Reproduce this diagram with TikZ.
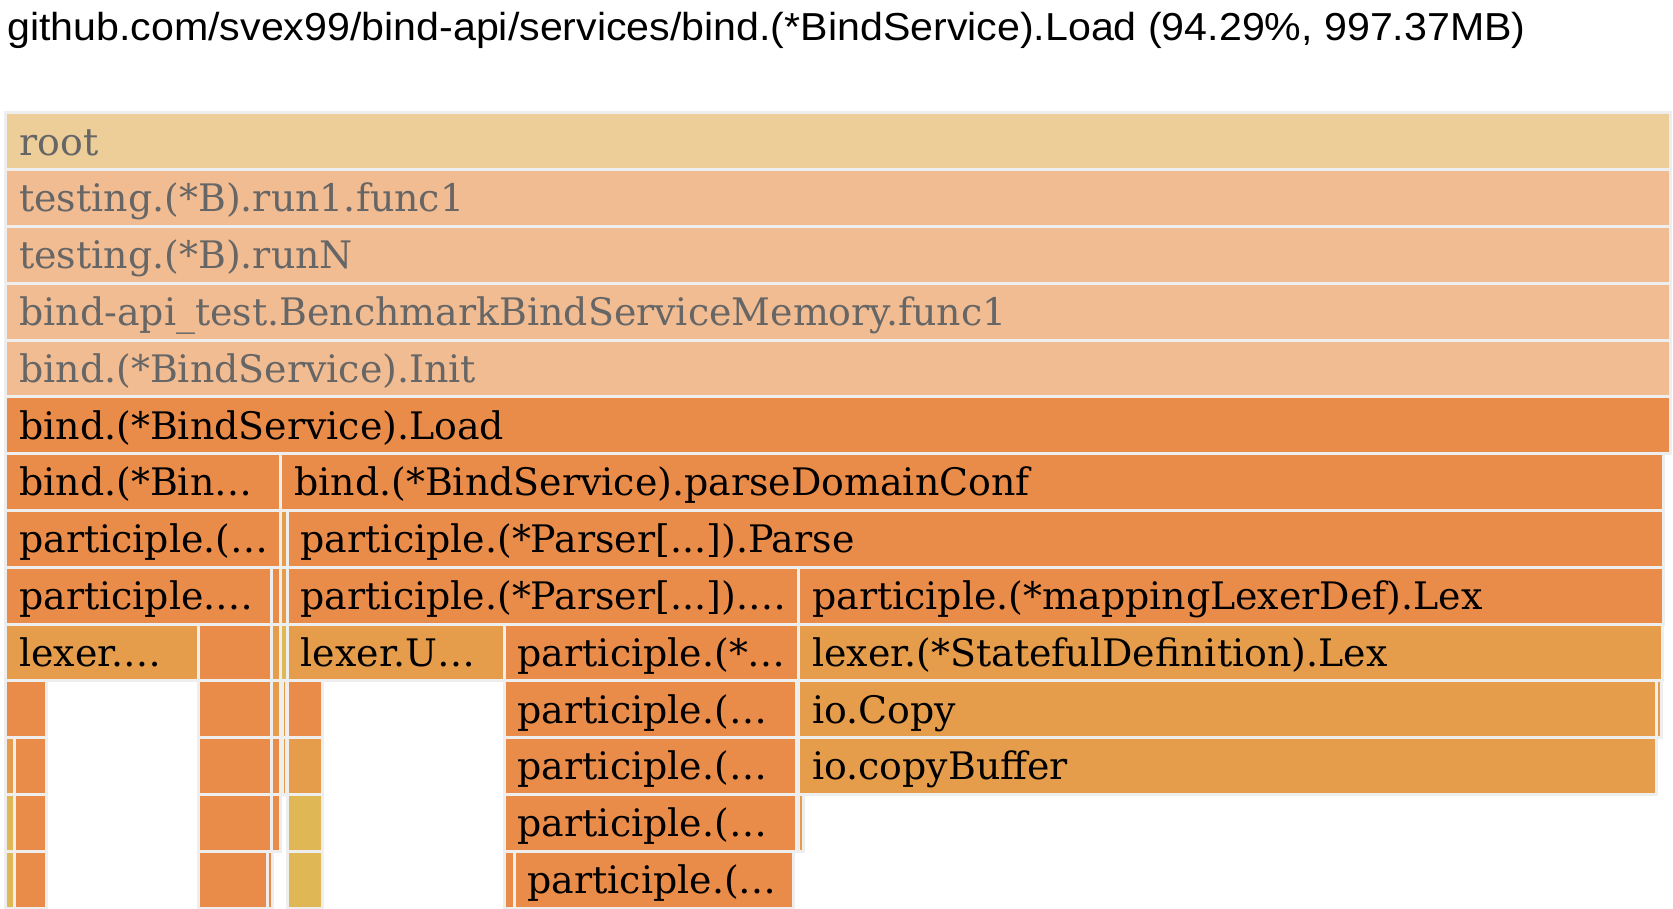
\documentclass[tikz,border=0pt]{standalone}
\usepackage{fontspec}
\setmainfont{DejaVu Serif}
\newfontfamily\titlefont[FakeStretch=1.055]{Liberation Sans}
\usepackage{tikz}
\usetikzlibrary{positioning}
\definecolor{rootfill}{HTML}{EDCE98}
\definecolor{callerfill}{HTML}{F2BC92}
\definecolor{hotfill}{HTML}{E98B49}
\definecolor{warmfill}{HTML}{E59D4C}
\definecolor{mildfill}{HTML}{DFB755}
\definecolor{gapgray}{HTML}{EEEEEE}
\definecolor{dimtext}{HTML}{666666}
\tikzstyle{frame}=[draw=gapgray,line width=3pt]
\tikzstyle{lbl}=[anchor=base west,inner sep=0pt,text=black,font=\fontsize{37.9}{40}\selectfont]
\tikzstyle{heading}=[anchor=base west,inner sep=0pt,font=\titlefont\fontsize{39}{42}\selectfont]
% one frame of the flame graph: name, row, left, right, fill, label
\newcommand{\flame}[6]{%
  \draw[frame,fill=#5] (#3,{112.8+56.8*#2}) rectangle (#4,{169.6+56.8*#2});
  \node[lbl] (#1) at ({#3+13.3},{155+56.8*#2}) {#6};
}

\begin{document}
\begin{tikzpicture}[x=1pt,y=-1pt]
	\useasboundingbox[fill=white] (0,0) rectangle (1673,908);

	% Title
	\node[heading] (title) at (7,40.5) {github.com/svex99/bind-api/services/bind.(*BindService).Load (94.29\%, 997.37MB)};

	% Callers of the focused frame
	\begin{scope}[lbl/.append style={text=dimtext}]
	\flame{root}{0}{5.8}{1670.2}{rootfill}{root}
	\flame{runfunc}{1}{5.8}{1670.2}{callerfill}{testing.(*B).run1.func1}
	\flame{runN}{2}{5.8}{1670.2}{callerfill}{testing.(*B).runN}
	\flame{bench}{3}{5.8}{1670.2}{callerfill}{bind-api\_test.BenchmarkBindServiceMemory.func1}
	\flame{init}{4}{5.8}{1670.2}{callerfill}{bind.(*BindService).Init}
	\end{scope}

	% Focused frame
	\flame{load}{5}{5.8}{1670.2}{hotfill}{bind.(*BindService).Load}

	% Row 6
	\flame{bindA}{6}{5.8}{280.8}{hotfill}{bind.(*Bin…}
	\flame{domconf}{6}{280.8}{1663.5}{hotfill}{bind.(*BindService).parseDomainConf}

	% Row 7
	\flame{partA}{7}{5.8}{280.8}{hotfill}{participle.(…}
	\flame{thinA}{7}{280.8}{287.2}{warmfill}{}
	\flame{parse}{7}{287.2}{1663.5}{hotfill}{participle.(*Parser[...]).Parse}

	% Row 8
	\flame{partB}{8}{5.8}{271}{hotfill}{participle.…}
	\flame{thinB}{8}{271}{280.8}{hotfill}{}
	\flame{thinC}{8}{280.8}{287.2}{warmfill}{}
	\flame{parser}{8}{287.2}{798.7}{hotfill}{participle.(*Parser[...]).…}
	\flame{maplex}{8}{798.7}{1663.5}{hotfill}{participle.(*mappingLexerDef).Lex}

	% Row 9
	\flame{lexA}{9}{5.8}{198.2}{warmfill}{lexer.…}
	\flame{sliceA}{9}{198.2}{271}{hotfill}{}
	\flame{thinD}{9}{271}{280.8}{warmfill}{}
	\flame{thinE}{9}{280.8}{287.2}{mildfill}{}
	\flame{lexU}{9}{287.2}{504.2}{warmfill}{lexer.U…}
	\flame{partC}{9}{504.2}{798.7}{hotfill}{participle.(*…}
	\flame{stateful}{9}{798.7}{1662.5}{warmfill}{lexer.(*StatefulDefinition).Lex}

	% Row 10
	\flame{sliceB}{10}{5.8}{46.2}{hotfill}{}
	\flame{sliceC}{10}{198.2}{271}{hotfill}{}
	\flame{thinF}{10}{271}{280.8}{warmfill}{}
	\flame{thinG}{10}{282}{286}{warmfill}{}
	\flame{sliceD}{10}{287.2}{322.5}{hotfill}{}
	\flame{partD}{10}{504.2}{796.2}{hotfill}{participle.(…}
	\flame{copy}{10}{798.7}{1656.5}{warmfill}{io.Copy}
	\flame{thinH}{10}{1656.5}{1661.5}{warmfill}{}

	% Row 11
	\flame{thinI}{11}{5.8}{14.2}{warmfill}{}
	\flame{sliceE}{11}{14.2}{46.2}{hotfill}{}
	\flame{sliceF}{11}{198.2}{271}{hotfill}{}
	\flame{thinJ}{11}{271}{280.8}{hotfill}{}
	\flame{thinK}{11}{282}{286}{warmfill}{}
	\flame{sliceG}{11}{287.2}{322.5}{warmfill}{}
	\flame{partE}{11}{504.2}{796.2}{hotfill}{participle.(…}
	\flame{copybuf}{11}{798.7}{1656.5}{warmfill}{io.copyBuffer}

	% Row 12
	\flame{thinL}{12}{5.8}{14.2}{mildfill}{}
	\flame{sliceH}{12}{14.2}{46.2}{hotfill}{}
	\flame{sliceI}{12}{198.2}{271}{hotfill}{}
	\flame{thinM}{12}{271}{280.8}{hotfill}{}
	\flame{sliceJ}{12}{287.2}{322.5}{mildfill}{}
	\flame{partF}{12}{504.2}{796.2}{hotfill}{participle.(…}
	\flame{thinN}{12}{798.7}{803.5}{warmfill}{}

	% Row 13
	\flame{thinO}{13}{5.8}{14.2}{mildfill}{}
	\flame{sliceK}{13}{14.2}{46.2}{hotfill}{}
	\flame{sliceL}{13}{198.2}{267.5}{hotfill}{}
	\flame{thinP}{13}{267.5}{272}{hotfill}{}
	\flame{sliceM}{13}{287.2}{322.5}{mildfill}{}
	\flame{thinQ}{13}{504.2}{514}{hotfill}{}
	\flame{partG}{13}{514}{793.8}{hotfill}{participle.(…}

\end{tikzpicture}
\end{document}
